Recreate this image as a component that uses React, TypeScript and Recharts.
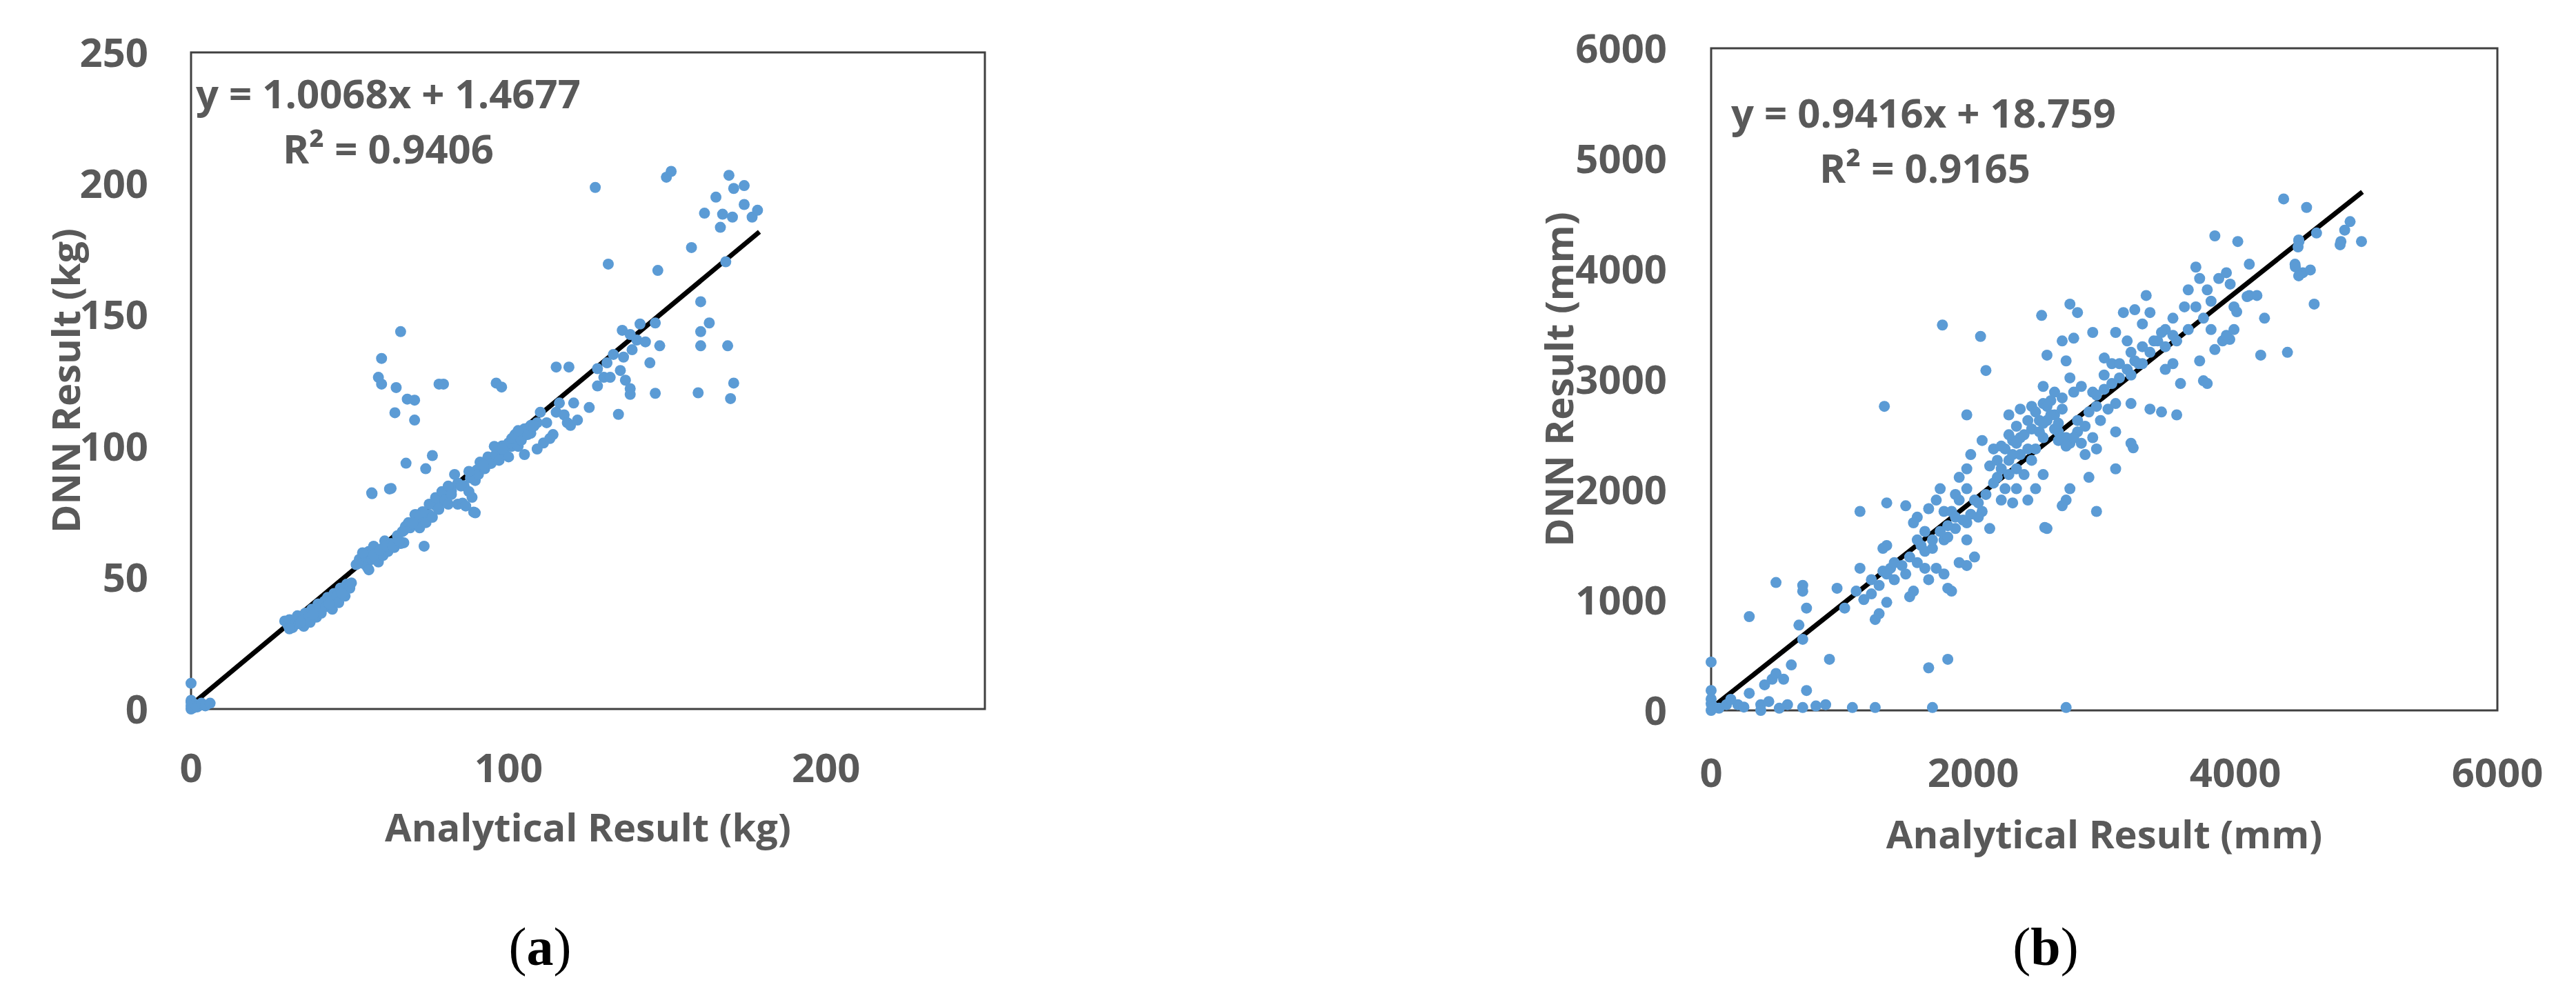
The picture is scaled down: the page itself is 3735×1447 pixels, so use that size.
import { ScatterChart, Scatter, XAxis, YAxis, ReferenceLine, ReferenceArea } from "recharts";

const FONT = "'Open Sans', 'DejaVu Sans', sans-serif";
const GREY = "#595959";
const FRAME = "#404040";
const DOT = "#5B9BD5";

// (a) weight, kg: [analytical, DNN]
const massPoints: [number, number][] = [
  [0, 0], [0, 1.2], [0, 2.5], [0, 3.3], [0, 9.8], [0.8, 0.5], [1.2, 1.8], [2, 0.8], [3.3, 2.2], [4.5, 1.2], [6, 2.2],
  [29.5, 33.5], [30.5, 32], [31, 34], [32, 31], [33, 33], [33.5, 35.5], [34, 32.5], [35, 34], [35.5, 31.5], [36, 36.5],
  [37, 35], [37.5, 33], [38, 38], [39, 37], [39.5, 35], [40, 40], [40.5, 38.5], [41, 36.5], [42, 41], [42.5, 39],
  [43, 42.5], [44, 41], [44.5, 38], [45, 44], [46, 43], [46.5, 40.5], [47, 46], [48, 45], [48.5, 43], [49, 47.5],
  [50, 46], [50.5, 48], [31, 30.5], [34.5, 33], [38.5, 36], [43.5, 40], [47.5, 44],
  [52, 55], [53, 57], [54, 55.5], [55, 58], [55.5, 54], [56, 60], [57, 57], [57.5, 62], [58, 59], [59, 56],
  [60, 61], [60.5, 58.5], [61, 64], [62, 60], [63, 63], [64, 61.5], [65, 66], [66, 63], [57, 82], [63, 84],
  [67, 63.3], [73.4, 62], [56, 53], [54, 59.5],
  [57.5, 58.5], [59.5, 60.5], [61.5, 62], [63.5, 62], [65.5, 64], [67, 68], [69, 69], [71, 71.5], [73, 72.5],
  [75, 74], [77, 77.5], [79, 79], [82, 83], [84, 86], [86, 85], [88, 88], [90, 91], [93, 93.5], [95, 95],
  [97, 97.5], [99, 99.5], [101, 100], [103, 104], [107, 105], [109, 109],
  [66.5, 67.5], [67.5, 69.5], [68.5, 71], [69.5, 70.5], [70.5, 74], [71.5, 72], [72, 69], [73, 75], [74, 71], [75, 78],
  [76, 73], [77, 80.5], [78, 76], [79, 82.8], [80, 79.5], [81, 78], [81, 84.9], [82, 81.7], [83, 89.3], [84, 78],
  [85, 84.9], [85.5, 78.4], [86.5, 77.3], [87.5, 82.8], [88.5, 80.6], [89.5, 87], [89, 75], [90.5, 89.3], [87.5, 90.5],
  [76, 96.5], [67.7, 93.6], [73.9, 91.5], [89.5, 74.7], [78, 76.2], [72.9, 75.1], [70.8, 74], [69.8, 70.8],
  [91, 94], [92.5, 91.5], [93.5, 96], [94.5, 93.5], [95.5, 100], [96, 96.9], [97, 94.7], [98, 100.2], [99, 97],
  [100, 101.3], [100, 96], [101, 103], [102, 104.5], [103, 100], [104, 102.3], [105, 96.9], [105, 106.7], [106, 104.5],
  [107, 108], [108, 107.8], [109, 99], [110, 113], [111, 101.3], [112, 109], [113, 103], [114, 104.5], [115, 113],
  [116, 116.5], [117.5, 112], [118.5, 109], [119.5, 108], [120.5, 116.5], [121.7, 110], [125.4, 114.8],
  [96.1, 124.1], [97.8, 122.6], [115, 130.2], [119, 130.2], [103, 106], [98, 99], [92, 93],
  [127.3, 198.6], [128, 123], [128, 129.6], [130, 126.3], [131, 131.8], [131.4, 169.4], [132, 126.3], [133, 135],
  [134.6, 112.2], [135.2, 128.9], [135.8, 144.2], [136.2, 134], [136.8, 125.2], [138.3, 142.6], [138.3, 122],
  [138.3, 119.8], [138.9, 136.8], [140.4, 140.5], [141.4, 146.6], [143.1, 139.8], [144.5, 131.8], [146.2, 147],
  [146.2, 120.2], [147, 167], [147.6, 138.3], [149.7, 202.5], [151.2, 204.7],
  [157.6, 175.7], [159.7, 120.4], [160.5, 155.1], [160.5, 143.7], [160.5, 138.3], [161.7, 188.8], [163.2, 147],
  [165.3, 194.9], [166.7, 183.4], [167.4, 188.4], [168.4, 170.3], [169, 138.3], [169.4, 203.2], [169.9, 118.2],
  [170.5, 187.3], [170.9, 198.2], [170.9, 124.1], [174.2, 199.3], [174.2, 192.1], [176.7, 187.3], [178.4, 189.9],
  [66, 143.7], [60, 133.5], [59, 126.3], [60, 123.7], [64.6, 122.4], [68.1, 118], [70.4, 117.6], [64.2, 112.8],
  [70.4, 110], [78.1, 123.7], [79.5, 123.7], [62.5, 83.8], [56.9, 82.3],
];
const massXTicks = [0, 100, 200];
const massYTicks = [0, 50, 100, 150, 200, 250];
const massFit = { slope: 1.0068, intercept: 1.4677, xMax: 179 };

// (b) displacement, mm: [analytical, DNN]
const dispPoints: [number, number][] = [
  [0, 0], [0, 60], [0, 103], [0, 180], [0, 438], [20, 30], [60, 20], [117, 52], [204, 52], [291, 155], [291, 850],
  [379, 52], [379, 0], [440, 80], [583, 52], [699, 26], [728, 180], [874, 52], [1078, 26], [1252, 26], [1689, 26],
  [2709, 26], [1660, 386], [1806, 463], [903, 463], [408, 232], [466, 283], [495, 335], [553, 283], [612, 412],
  [699, 644], [670, 773], [728, 927], [699, 1133], [495, 1159], [699, 1080], [150, 100], [250, 30], [520, 20], [800, 40],
  [961, 1107], [1019, 927], [1107, 1081], [1136, 1288], [1223, 1185], [1311, 1262], [1252, 824], [1282, 876],
  [1340, 979], [1369, 1288], [1398, 1339], [1485, 1236], [1515, 1030], [1544, 1081], [1573, 1339], [1602, 1494],
  [1631, 1288], [1660, 1185], [1718, 1288], [1777, 1236], [1806, 1107], [1835, 1081], [1893, 1339], [1951, 1313],
  [2010, 1390], [1951, 1545], [1777, 1545], [1689, 1468], [1631, 1622], [1573, 1751], [1485, 1854], [1340, 1494],
  [1311, 1468], [1136, 1803], [1340, 1880], [1544, 1700], [1660, 1828], [1748, 2009], [1864, 1957], [1893, 2112],
  [1951, 2009], [2010, 1906], [2068, 1803], [2126, 1648], [2039, 1751], [1951, 1700], [1864, 1648], [1806, 1674],
  [1777, 1803], [1718, 1906], [1835, 1803], [1893, 1906], [1951, 2189], [1981, 2318], [2068, 2446], [2155, 2369],
  [2126, 2215], [2184, 2112], [2243, 2009], [2214, 1906], [2301, 1880], [2330, 2009], [2417, 1906], [2476, 2009],
  [2563, 1648], [2534, 2137], [2388, 2137], [2330, 2189], [2272, 2266], [2243, 2369], [2301, 2446], [2359, 2472],
  [2417, 2369], [2446, 2266], [2476, 2369], [2534, 2472], [2330, 2575], [2272, 2678], [2359, 2730], [2446, 2755],
  [2534, 2781], [2592, 2807], [2505, 2627], [2563, 2627], [2621, 2678], [2679, 2730], [2650, 2524], [2709, 2472],
  [2738, 2421], [2796, 2524], [2825, 2421], [2912, 2472], [2854, 2318], [2941, 2369], [2971, 2627], [2767, 2884],
  [2825, 2936], [2912, 2884], [2999, 3039], [3058, 3142], [3000, 3193], [2679, 2832], [2621, 2884],
  [2184, 2266], [2214, 2395], [2272, 2498], [2301, 2318], [2330, 2421], [2388, 2498], [2417, 2627], [2446, 2550],
  [2476, 2704], [2505, 2524], [2534, 2601], [2563, 2755], [2592, 2678], [2621, 2550], [2650, 2601], [2359, 2318],
  [2272, 2137], [2214, 2189], [2155, 2060], [2097, 1957], [2039, 1880], [1981, 1777], [1922, 1725], [1864, 1751],
  [1806, 1570], [1748, 1622], [1689, 1545], [1631, 1442], [1573, 1545], [1515, 1390], [1456, 1313], [1398, 1184],
  [1340, 1236], [1282, 1133], [1223, 1056], [1165, 1004], [2650, 2446], [2709, 2395], [2767, 2472], [2796, 2627],
  [2854, 2575], [2883, 2704], [2941, 2755], [2999, 2910], [3058, 2962], [3116, 3013], [3175, 3090], [3233, 3167],
  [3291, 3296],
  [1951, 2678], [2522, 3579], [2738, 3682], [2796, 3605], [2679, 3348], [2767, 3373], [2912, 3425], [2563, 3219],
  [2709, 3167], [2534, 2936], [2738, 3013], [1765, 3492], [2056, 3389], [2097, 3080], [1322, 2755],
  [2546, 1658], [2709, 1906], [2941, 1803], [3087, 2189], [3221, 2379], [3087, 2524], [2883, 2112], [2738, 2009], [2679, 1854],
  [3087, 3425], [3146, 3605], [3233, 3631], [3320, 3760], [3349, 3605], [3291, 3502], [3175, 3348], [3204, 3245],
  [3291, 3142], [3349, 3245], [3408, 3348], [3466, 3451], [3524, 3554], [3612, 3657], [3641, 3811], [3699, 4017],
  [3728, 3914], [3786, 3811], [3844, 4300], [3874, 3914], [3932, 3966], [3961, 3863], [3990, 3657], [4019, 4249],
  [4107, 4043], [4107, 3760], [4165, 3760], [4223, 3554], [4194, 3219], [4398, 3245], [4369, 4635], [4544, 4558],
  [4486, 4249], [4456, 4043], [4515, 3966], [4573, 3991], [4602, 3682], [4620, 4326], [4806, 4249], [4835, 4352],
  [4876, 4429], [4963, 4249], [4484, 4263], [4479, 4200], [4800, 4219], [4090, 3750], [4011, 3612], [3958, 3362],
  [4458, 4019], [4484, 3938],
  [3466, 3090], [3524, 3142], [3582, 2962], [3728, 3167], [3757, 2987], [3786, 2962], [3844, 3270], [3903, 3348],
  [3932, 3399], [3990, 3451], [3815, 3451], [3757, 3554], [3699, 3657], [3815, 3708], [3641, 3451], [3553, 3348],
  [3466, 3296], [3349, 2730], [3437, 2704], [3553, 2678], [3204, 2421], [3087, 2781], [3204, 2781], [2941, 2858],
  [3029, 2730], [3116, 3142], [3204, 3039], [3262, 3142], [3378, 3348], [3437, 3425], [3524, 3399],
];
const dispXTicks = [0, 2000, 4000, 6000];
const dispYTicks = [0, 1000, 2000, 3000, 4000, 5000, 6000];
const dispFit = { slope: 0.9416, intercept: 18.759, xMax: 4970 };

interface PanelProps {
  points: [number, number][];
  xTicks: number[];
  yTicks: number[];
  xMax: number;
  yMax: number;
  fit: { slope: number; intercept: number; xMax: number };
  xTitle: string;
  yTitle: string;
  left: number;
  width: number;
  height: number;
  margin: { top: number; right: number; bottom: number; left: number };
  yAxisWidth: number;
  xAxisHeight: number;
  yTickMargin: number;
  xTickMargin: number;
  xTitleOffset: number;
  yTitleOffset: number;
}

const tickStyle = { fill: GREY, fontSize: 58, fontWeight: 700, fontFamily: FONT };
const titleStyle = { fill: GREY, fontSize: 56, fontWeight: 700, fontFamily: FONT };

function Panel(p: PanelProps) {
  const data = p.points.map(([x, y]) => ({ x, y }));
  return (
    <div style={{ position: "absolute", left: p.left, top: 0, width: p.width, height: p.height }}>
      <ScatterChart width={p.width} height={p.height} margin={p.margin}>
        <XAxis
          type="number"
          dataKey="x"
          domain={[0, p.xMax]}
          ticks={p.xTicks}
          interval={0}
          height={p.xAxisHeight}
          axisLine={false}
          tickLine={false}
          tickSize={0}
          tickMargin={p.xTickMargin}
          tick={tickStyle}
          label={{ value: p.xTitle, position: "insideTop", offset: p.xTitleOffset, ...titleStyle }}
        />
        <YAxis
          type="number"
          dataKey="y"
          domain={[0, p.yMax]}
          ticks={p.yTicks}
          interval={0}
          width={p.yAxisWidth}
          axisLine={false}
          tickLine={false}
          tickSize={0}
          tickMargin={p.yTickMargin}
          tick={tickStyle}
          label={{
            value: p.yTitle,
            angle: -90,
            position: "insideLeft",
            offset: p.yTitleOffset,
            style: { textAnchor: "middle" },
            ...titleStyle,
          }}
        />
        <ReferenceArea x1={0} x2={p.xMax} y1={0} y2={p.yMax} fill="none" stroke={FRAME} strokeWidth={3} />
        <Scatter
          data={data}
          fill={DOT}
          isAnimationActive={false}
          shape={(s: any) => <circle cx={s.cx} cy={s.cy} r={8} fill={DOT} />}
        />
        <ReferenceLine
          segment={[
            { x: 0, y: p.fit.intercept },
            { x: p.fit.xMax, y: p.fit.slope * p.fit.xMax + p.fit.intercept },
          ]}
          stroke="#000"
          strokeWidth={7}
        />
      </ScatterChart>
    </div>
  );
}

export default function App() {
  const eq = { fill: GREY, fontSize: 58, fontWeight: 700, fontFamily: FONT };
  const cap = { fill: "#000", fontSize: 78, fontFamily: "'Liberation Serif', 'Times New Roman', serif" };
  return (
    <div style={{ position: "absolute", left: 0, top: 0, width: 3735, height: 1447, background: "#fff", overflow: "hidden" }}>
      <Panel
        points={massPoints}
        xTicks={massXTicks}
        yTicks={massYTicks}
        xMax={250}
        yMax={250}
        fit={massFit}
        xTitle="Analytical Result (kg)"
        yTitle="DNN Result (kg)"
        left={0}
        width={1500}
        height={1300}
        margin={{ top: 76, right: 72, bottom: 0, left: 0 }}
        yAxisWidth={277}
        xAxisHeight={272}
        yTickMargin={62}
        xTickMargin={65}
        xTitleOffset={152}
        yTitleOffset={96}
      />
      <Panel
        points={dispPoints}
        xTicks={dispXTicks}
        yTicks={dispYTicks}
        xMax={6000}
        yMax={6000}
        fit={dispFit}
        xTitle="Analytical Result (mm)"
        yTitle="DNN Result (mm)"
        left={2000}
        width={1735}
        height={1300}
        margin={{ top: 70, right: 114, bottom: 0, left: 0 }}
        yAxisWidth={481}
        xAxisHeight={270}
        yTickMargin={64}
        xTickMargin={70}
        xTitleOffset={160}
        yTitleOffset={261}
      />
      <svg width={3735} height={1447} style={{ position: "absolute", left: 0, top: 0, pointerEvents: "none" }}>
        <text x={284} y={157} {...eq}>y = 1.0068x + 1.4677</text>
        <text x={410} y={237} {...eq}>R² = 0.9406</text>
        <text x={2510} y={185} {...eq}>y = 0.9416x + 18.759</text>
        <text x={2638} y={265} {...eq}>R² = 0.9165</text>
        <text x={783} y={1399} textAnchor="middle" {...cap}>
          (<tspan fontWeight={700}>a</tspan>)
        </text>
        <text x={2966} y={1399} textAnchor="middle" {...cap}>
          (<tspan fontWeight={700}>b</tspan>)
        </text>
      </svg>
    </div>
  );
}
